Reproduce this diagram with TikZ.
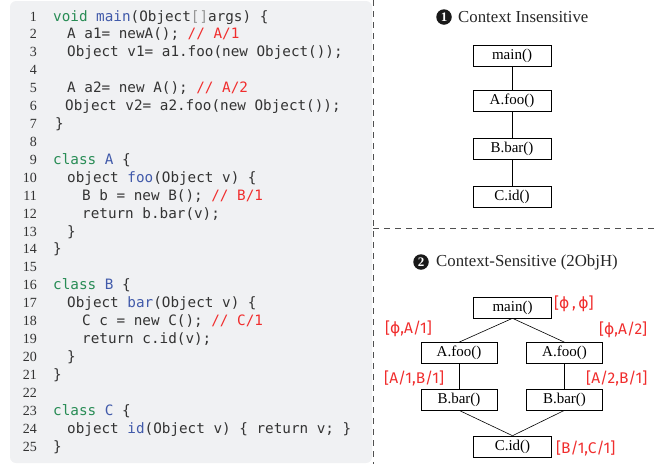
\documentclass[tikz,border=0pt]{standalone}
\usepackage{fontspec}
\setmainfont{Liberation Serif}
\newfontfamily\codefont{DejaVu Sans Mono}
\newfontfamily\labfont{Fira Sans}
\newfontfamily\phifont{DejaVu Sans}
\definecolor{codebg}{RGB}{240,241,243}
\definecolor{kwgreen}{RGB}{40,140,85}
\definecolor{fnblue}{RGB}{65,90,170}
\definecolor{cmred}{RGB}{240,45,45}
\definecolor{brgray}{RGB}{150,150,150}
\definecolor{dashgray}{RGB}{80,80,80}
\newcommand\kwg[1]{\textcolor{kwgreen}{#1}}
\newcommand\fnb[1]{\textcolor{fnblue}{#1}}
\newcommand\cmr[1]{\textcolor{cmred}{#1}}
\newcommand\ph{{\phifont ϕ}}
\tikzset{
  codeline/.style={anchor=base west, inner sep=0pt, font=\codefont\fontsize{14.3}{16}\selectfont, text=black!80},
  lnum/.style={anchor=base east, inner sep=0pt, font=\fontsize{14}{16}\selectfont, text=black!80},
  cbox/.style={draw, line width=0.6pt, minimum width=78pt, minimum height=21pt, inner sep=0pt, font=\fontsize{15}{17}\selectfont},
  edge/.style={line width=0.6pt},
  ctx/.style={anchor=west, inner sep=0pt, text=cmred, font=\labfont\fontsize{15.5}{17}\selectfont},
  numdot/.style={circle, fill=black!90, text=white, inner sep=0pt, minimum size=15.5pt, font=\fontsize{13}{14}\selectfont\bfseries},
  ttl/.style={anchor=west, inner sep=0pt, font=\fontsize{16.8}{18}\selectfont, text=black!85},
  sep/.style={dashgray, line width=0.8pt, dash pattern=on 6pt off 5pt}
}
\begin{document}
\begin{tikzpicture}[x=1pt,y=-1pt]
\useasboundingbox (0,0) rectangle (667,464);
\fill[codebg, rounded corners=6pt] (10,1) rectangle (372,463);
% separators
\coordinate (vt) at (373,0);
\coordinate (vb) at (373,464);
\coordinate (hl) at (373,228);
\coordinate (hr) at (655,228);
\draw[sep] (vt) -- (vb);
\draw[sep] (hl) -- (hr);
% line numbers
\foreach \i in {1,...,25} {
  \node[lnum] (n\i) at (37,{21+(\i-1)*17.92}) {\i};
}
% code
\node[codeline] (l1) at (53,21) {\kwg{void} \fnb{main}(Object\textcolor{brgray}{[]}args) \{};
\node[codeline] (l2) at (67,38.92) {A a1= newA(); \cmr{// A/1}};
\node[codeline] (l3) at (67,56.84) {Object v1= a1.foo(new Object());};
\node[codeline] (l5) at (67,92.68) {A a2= new A(); \cmr{// A/2}};
\node[codeline] (l6) at (65,110.6) {Object v2= a2.foo(new Object());};
\node[codeline] (l7) at (55,128.52) {\}};
\node[codeline] (l9) at (53,164.36) {\kwg{class} \fnb{A} \{};
\node[codeline] (l10) at (67,182.28) {object \fnb{foo}(Object v) \{};
\node[codeline] (l11) at (82,200.2) {B b = new B(); \cmr{// B/1}};
\node[codeline] (l12) at (82,218.12) {return b.bar(v);};
\node[codeline] (l13) at (67,236.04) {\}};
\node[codeline] (l14) at (53,253.96) {\}};
\node[codeline] (l16) at (53,289.8) {\kwg{class} \fnb{B} \{};
\node[codeline] (l17) at (67,307.72) {Object \fnb{bar}(Object v) \{};
\node[codeline] (l18) at (82,325.64) {C c = new C(); \cmr{// C/1}};
\node[codeline] (l19) at (82,343.56) {return c.id(v);};
\node[codeline] (l20) at (67,361.48) {\}};
\node[codeline] (l21) at (53,379.4) {\}};
\node[codeline] (l23) at (53,415.24) {\kwg{class} \fnb{C} \{};
\node[codeline] (l24) at (67,433.16) {object \fnb{id}(Object v) \{ return v; \}};
\node[codeline] (l25) at (53,451.08) {\}};
% part 1
\node[numdot] (d1) at (444,17) {1};
\node[ttl] (t1) at (458,17) {Context Insensitive};
\node[cbox] (m1) at (512,56) {main()};
\node[cbox] (f1) at (512,101) {A.foo()};
\node[cbox] (b1) at (512,148.5) {B.bar()};
\node[cbox] (c1) at (512,196.5) {C.id()};
\draw[edge] (m1) -- (f1);
\draw[edge] (f1) -- (b1);
\draw[edge] (b1) -- (c1);
% part 2
\node[numdot] (d2) at (421,262) {2};
\node[ttl] (t2) at (436,262) {Context-Sensitive (2ObjH)};
\node[cbox] (m2) at (512.5,307.5) {main()};
\node[cbox, minimum width=76pt] (fa) at (459,353) {A.foo()};
\node[cbox, minimum width=76pt] (fb) at (564.5,353) {A.foo()};
\node[cbox, minimum width=76pt] (ba) at (459,399.5) {B.bar()};
\node[cbox, minimum width=76pt] (bb) at (564.5,399.5) {B.bar()};
\node[cbox] (c2) at (512.5,446.5) {C.id()};
\draw[edge] (m2.south) -- (fa.north);
\draw[edge] (m2.south) -- (fb.north);
\draw[edge] (fa) -- (ba);
\draw[edge] (fb) -- (bb);
\draw[edge] (ba.south) -- (c2.north);
\draw[edge] (bb.south) -- (c2.north);
\node[ctx] (k1) at (554,304) {[\ph\,,\,\ph]};
\node[ctx] (k2) at (385,329) {[\ph,A/1]};
\node[ctx] (k3) at (599,330) {[\ph,A/2]};
\node[ctx] (k4) at (384,378) {[A/1,B/1]};
\node[ctx] (k5) at (586,378) {[A/2,B/1]};
\node[ctx] (k6) at (556,448) {[B/1,C/1]};
\end{tikzpicture}
\end{document}
